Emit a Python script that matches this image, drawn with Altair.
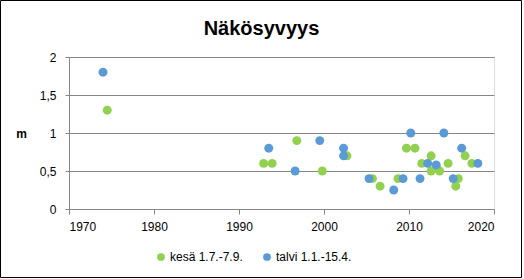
import altair as alt
import pandas as pd

# kesä 1.7.-7.9. (green)
kesa_year = [1974.5, 1992.9, 1993.9, 1996.8, 1999.8, 2002.7, 2005.7, 2006.6, 2008.7,
             2009.7, 2010.7, 2011.5, 2012.6, 2012.6, 2013.2, 2013.6, 2014.6, 2015.5,
             2015.8, 2016.6, 2017.4]
kesa_val = [1.3, 0.6, 0.6, 0.9, 0.5, 0.7, 0.4, 0.3, 0.4,
            0.8, 0.8, 0.6, 0.7, 0.5, 0.55, 0.5, 0.6, 0.3,
            0.4, 0.7, 0.6]

# talvi 1.1.-15.4. (blue)
talvi_year = [1974.0, 1993.5, 1996.6, 1999.5, 2002.3, 2002.3, 2005.3, 2008.2, 2009.3,
              2010.2, 2011.3, 2012.2, 2013.2, 2014.1, 2015.2, 2016.2, 2018.1]
talvi_val = [1.8, 0.8, 0.5, 0.9, 0.8, 0.7, 0.4, 0.25, 0.4,
             1.0, 0.4, 0.6, 0.58, 1.0, 0.4, 0.8, 0.6]

series = ["kesä 1.7.-7.9.", "talvi 1.1.-15.4."]
colors = ["#92D050", "#5B9BD5"]
x_ticks = [1970, 1980, 1990, 2000, 2010, 2020]
y_ticks = [0, 0.5, 1, 1.5, 2]

df = pd.concat([
    pd.DataFrame({"vuosi": kesa_year, "m": kesa_val, "sarja": series[0]}),
    pd.DataFrame({"vuosi": talvi_year, "m": talvi_val, "sarja": series[1]}),
], ignore_index=True)

FONT = "Liberation Sans"

points = alt.Chart(df).mark_circle(size=80, opacity=1).encode(
    x=alt.X("vuosi:Q",
            scale=alt.Scale(domain=[1970, 2020], nice=False, zero=False),
            axis=alt.Axis(values=x_ticks, format="d", title=None, grid=False,
                          domainColor="#868686", tickColor="#868686", tickSize=5,
                          labelFontSize=12, labelColor="#000000", labelPadding=7,
                          labelFont=FONT)),
    y=alt.Y("m:Q",
            scale=alt.Scale(domain=[0, 2], nice=False),
            axis=alt.Axis(values=y_ticks, title="m", titleAngle=0,
                          titleX=-48, titleY=76, titleAlign="center",
                          titleBaseline="middle", titleFontWeight="bold",
                          titleFontSize=12, titleFont=FONT,
                          labelExpr="replace(toString(datum.value), '.', ',')",
                          grid=True, gridColor="#868686",
                          domainColor="#868686", tickColor="#868686", tickSize=4,
                          labelFontSize=12, labelColor="#000000", labelPadding=9,
                          labelFont=FONT)),
    color=alt.Color("sarja:N",
                    scale=alt.Scale(domain=series, range=colors),
                    legend=alt.Legend(title=None, orient="none", direction="horizontal",
                                      legendX=86, legendY=194, symbolType="circle",
                                      symbolSize=60, labelFontSize=12, labelFont=FONT,
                                      labelColor="#000000", columnPadding=18,
                                      labelOffset=3)),
)

border = alt.Chart(pd.DataFrame({"a": [0]})).mark_rect(
    fill=None, stroke="#000000", strokeWidth=1
).encode(x=alt.value(-68.5), x2=alt.value(452.5), y=alt.value(-56.5), y2=alt.value(220.5))

chart = alt.layer(points, border).properties(
    width=425, height=152,
    title=alt.TitleParams("Näkösyvyys", fontSize=20, fontWeight="bold", font=FONT,
                          anchor="middle", frame="group", dx=-20, offset=0, dy=59,
                          baseline="bottom", color="#000000"),
    autosize=alt.AutoSizeParams(type="none"),
    padding={"left": 69, "top": 57, "right": 30, "bottom": 70},
).configure_view(stroke=None).configure(background="#ffffff")

chart.save("out.html", embed_options={"renderer": "svg", "actions": False})
